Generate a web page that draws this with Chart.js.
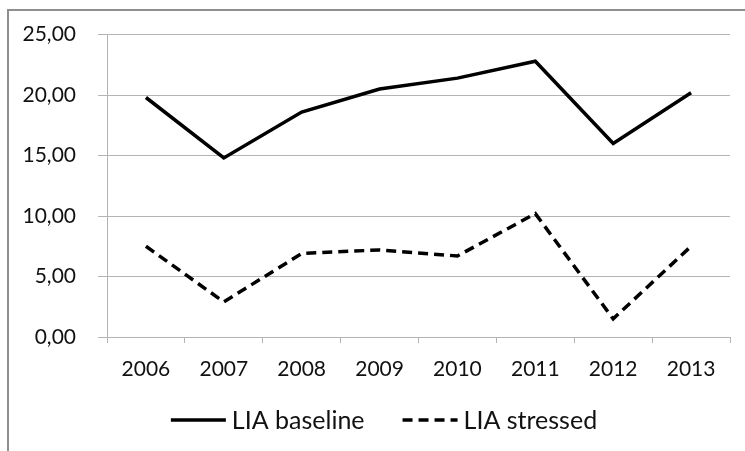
<!DOCTYPE html>
<html>
<head>
<meta charset="utf-8">
<script src="https://cdn.jsdelivr.net/npm/chart.js@4/dist/chart.umd.min.js"></script>
<style>
    html, body { margin: 0; padding: 0; background: #ffffff; }
    #wrap { position: relative; width: 745px; height: 451px; overflow: hidden; }
    /* Excel chart-area frame, only top and left edges are in view */
    #frame {
        position: absolute; left: 7px; top: 9px; width: 800px; height: 500px;
        border-left: 2px solid #8e8e8e; border-top: 2px solid #8e8e8e;
    }
    #lineChart { position: absolute; left: 0; top: 0; }
</style>
</head>
<body>
<div id="wrap">
    <div id="frame"></div>
    <canvas id="lineChart" width="745" height="451"></canvas>
</div>
<script>
// Chart data
const years = ['2006', '2007', '2008', '2009', '2010', '2011', '2012', '2013'];
const liaBaseline = [19.8, 14.8, 18.6, 20.5, 21.4, 22.8, 16.0, 20.2];
const liaStressed = [7.5, 2.9, 6.9, 7.2, 6.7, 10.2, 1.5, 7.5];
const seriesNames = ['LIA baseline', 'LIA stressed'];

const fontFamily = 'Lato, "Open Sans", sans-serif';
const gridColor = '#b4b4b4';
const textColor = '#111111';

// Format ticks like the original (comma decimal separator)
function formatTick(value) {
    return value.toFixed(2).replace('.', ',');
}

// Legend drawn below the axis: line sample + label for each dataset
const bottomLegend = {
    id: 'bottomLegend',
    afterDraw(chart) {
        const ctx = chart.ctx;
        const sampleWidth = 55;
        const gap = 6;
        const spacing = 38;
        const legendY = 420;

        ctx.save();
        ctx.font = '25px ' + fontFamily;
        ctx.textBaseline = 'middle';

        const items = chart.data.datasets.map(ds => ({
            ds: ds,
            textWidth: ctx.measureText(ds.label).width
        }));
        let total = 0;
        items.forEach((item, i) => {
            total += sampleWidth + gap + item.textWidth;
            if (i > 0) total += spacing;
        });

        let x = 384 - total / 2;
        items.forEach(item => {
            ctx.beginPath();
            ctx.setLineDash(item.ds.borderDash || []);
            ctx.lineWidth = item.ds.borderWidth;
            ctx.strokeStyle = item.ds.borderColor;
            ctx.moveTo(x, legendY);
            ctx.lineTo(x + sampleWidth, legendY);
            ctx.stroke();
            ctx.setLineDash([]);

            ctx.fillStyle = textColor;
            ctx.fillText(item.ds.label, x + sampleWidth + gap, legendY + 1);
            x += sampleWidth + gap + item.textWidth + spacing;
        });
        ctx.restore();
    }
};

const ctx = document.getElementById('lineChart').getContext('2d');

new Chart(ctx, {
    type: 'line',
    data: {
        labels: years,
        datasets: [{
            label: seriesNames[0],
            data: liaBaseline,
            borderColor: '#000000',
            borderWidth: 3.5,
            pointRadius: 0,
            tension: 0,
            fill: false
        }, {
            label: seriesNames[1],
            data: liaStressed,
            borderColor: '#000000',
            borderWidth: 3.5,
            borderDash: [10, 6],
            pointRadius: 0,
            tension: 0,
            fill: false
        }]
    },
    options: {
        responsive: false,
        animation: false,
        layout: {
            padding: { top: 34, right: 15, bottom: 0, left: 0 }
        },
        scales: {
            x: {
                offset: true,
                afterFit: scale => { scale.height = 114; },
                grid: {
                    offset: true,
                    drawOnChartArea: false,
                    drawTicks: true,
                    tickLength: 6,
                    color: gridColor
                },
                border: { display: true, color: gridColor },
                ticks: {
                    color: textColor,
                    padding: 14,
                    maxRotation: 0,
                    font: { family: fontFamily, size: 21 }
                }
            },
            y: {
                min: 0,
                max: 25,
                afterFit: scale => { scale.width = 107; },
                grid: {
                    color: gridColor,
                    drawTicks: true,
                    tickLength: 9
                },
                border: { display: true, color: gridColor },
                ticks: {
                    stepSize: 5,
                    color: textColor,
                    padding: 22,
                    font: { family: fontFamily, size: 21 },
                    callback: value => formatTick(value)
                }
            }
        },
        plugins: {
            legend: { display: false },
            tooltip: { enabled: false }
        }
    },
    plugins: [bottomLegend]
});
</script>
</body>
</html>
